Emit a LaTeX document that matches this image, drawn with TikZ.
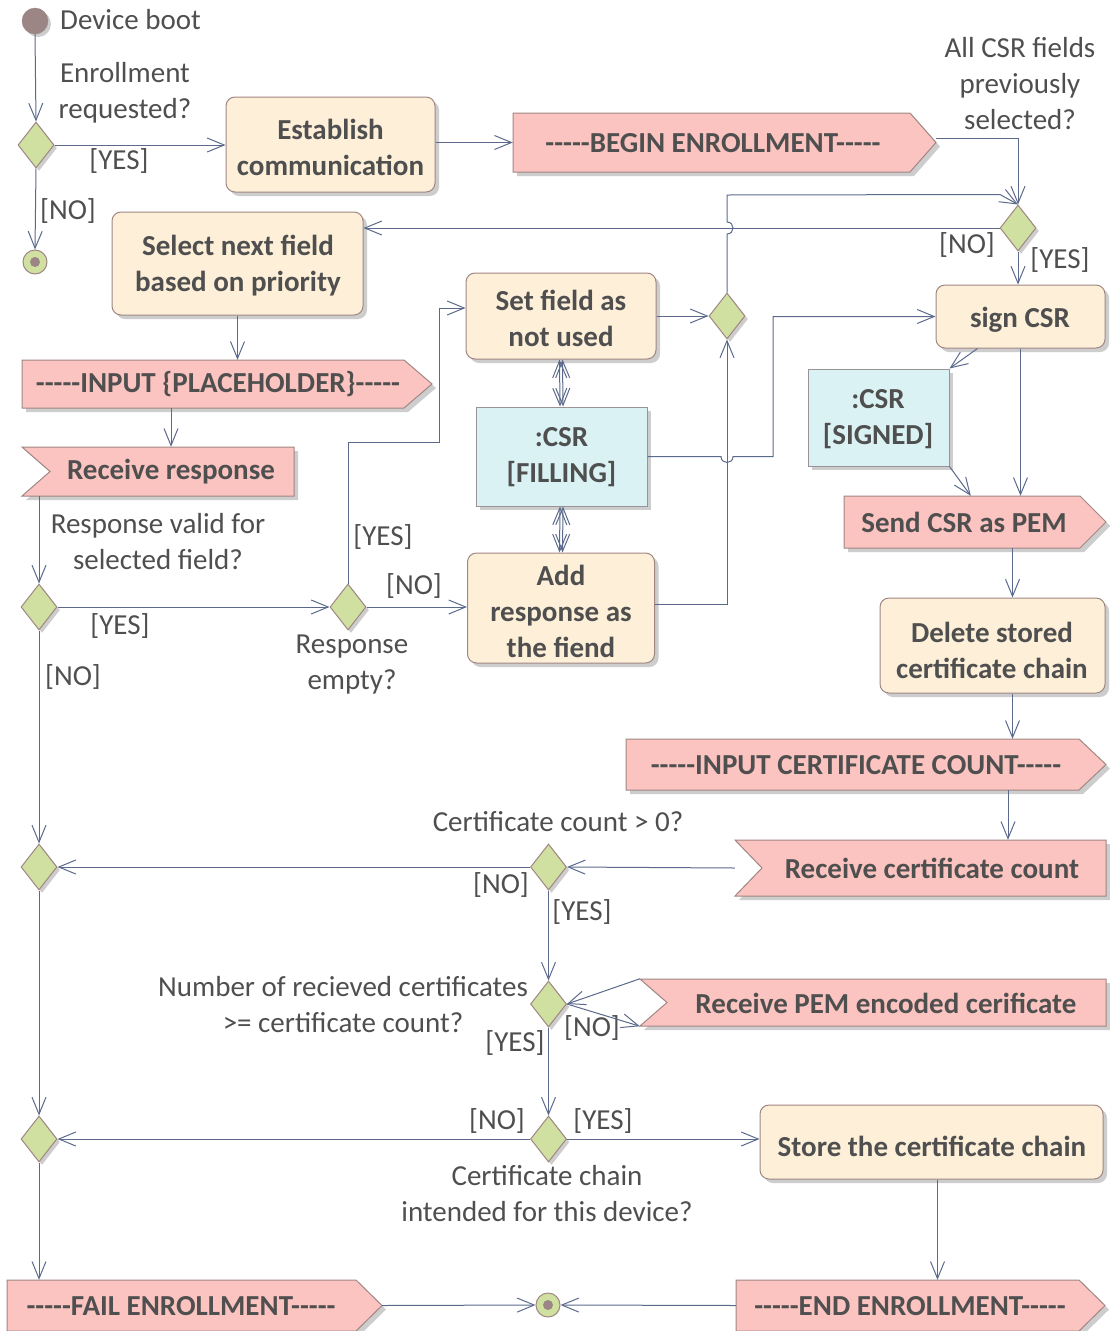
\documentclass[tikz,border=0pt]{standalone}
\usepackage{fontspec}
\setmainfont{Carlito}[Ligatures=TeXOff]
\usetikzlibrary{arrows.meta,shapes.geometric,calc,shadows}
\definecolor{lnc}{HTML}{5B6A8C}
\definecolor{bdr}{HTML}{A08784}
\definecolor{actf}{HTML}{FDEFD8}
\definecolor{sigf}{HTML}{FBC4C0}
\definecolor{objf}{HTML}{DAF2F3}
\definecolor{objb}{HTML}{9A9396}
\definecolor{decf}{HTML}{CFE0A0}
\definecolor{txt}{HTML}{4F4F4F}
\definecolor{shd}{HTML}{CDCDCD}
\definecolor{startc}{HTML}{9C8585}
\newcommand\lblfont{\fontsize{29}{36}\selectfont}
\newcommand\bfnt{\bfseries\fontsize{29}{36}\selectfont}
\tikzset{
  conn/.style={draw=lnc, line width=1pt, -{Straight Barb[length=17pt,width=14pt]}},
  plainln/.style={draw=lnc, line width=1pt},
  shdw/.style={drop shadow={shadow xshift=4pt, shadow yshift=-4pt, fill=shd, opacity=1}},
  act/.style={draw=bdr, fill=actf, line width=1pt, rounded corners=9pt, inner sep=0pt, shdw},
  obj/.style={draw=objb, fill=objf, line width=1pt, inner sep=0pt, shdw},
  sigsty/.style={draw=bdr, fill=sigf, line width=1pt},
  frame/.style={draw=none, inner sep=0pt},
  dec/.style={diamond, draw=bdr, fill=decf, line width=1pt, minimum width=36pt, minimum height=46pt, inner sep=0pt,
    drop shadow={shadow xshift=3pt, shadow yshift=-3pt, fill=shd, opacity=1}},
  lbl/.style={font=\lblfont, align=center, inner sep=0pt, text=txt},
  btx/.style={font=\bfnt, align=center, inner sep=0pt, text=txt},
}
% send signal: name, xl, yt, xb, xr, yb
\newcommand\sendsig[6]{%
  \fill[shd] ({#2+4},{#3+4}) -- ({#4+4},{#3+4}) -- ({#5+4},{(#3+#6)/2+4}) -- ({#4+4},{#6+4}) -- ({#2+4},{#6+4}) -- cycle;
  \filldraw[sigsty] (#2,#3) -- (#4,#3) -- (#5,{(#3+#6)/2}) -- (#4,#6) -- (#2,#6) -- cycle;
  \node[frame, minimum width={#5-#2}, minimum height={#6-#3}] (#1) at ({(#2+#5)/2},{(#3+#6)/2}) {};
}
% receive signal: name, xl, yt, xn, xr, yb
\newcommand\recvsig[6]{%
  \fill[shd] ({#2+4},{#3+4}) -- ({#5+4},{#3+4}) -- ({#5+4},{#6+4}) -- ({#2+4},{#6+4}) -- ({#4+4},{(#3+#6)/2+4}) -- cycle;
  \filldraw[sigsty] (#2,#3) -- (#5,#3) -- (#5,#6) -- (#2,#6) -- (#4,{(#3+#6)/2}) -- cycle;
  \node[frame, minimum width={#5-#2}, minimum height={#6-#3}] (#1) at ({(#2+#5)/2},{(#3+#6)/2}) {};
}
\begin{document}
\begin{tikzpicture}[x=1pt,y=-1pt]
\useasboundingbox[fill=white] (0,0) rectangle (1109,1331);

% ---------- start / first decision ----------
\node[circle, fill=startc, draw=startc, minimum size=26pt, inner sep=0pt,
  drop shadow={shadow xshift=3pt, shadow yshift=-3pt, fill=shd, opacity=1}] (start) at (35,21) {};
\node[lbl, anchor=west] (startl) at (60,20) {Device boot};
\node[lbl] (q1) at (125,93) {Enrollment\\requested?};
\node[dec] (d1) at (36,145) {};
\node[lbl] (yes1) at (119,161) {[YES]};
\node[lbl] (no1) at (68,211) {[NO]};
\node[circle, fill=decf, draw=bdr, line width=1pt, minimum size=24pt, inner sep=0pt,
  path picture={\fill[startc] (path picture bounding box.center) circle (5pt);}] (end1) at (35,262) {};

\node[act, minimum width=209pt, minimum height=95pt] (est) at (330.5,144.5) {};
\node[btx] (est-t) at (330.5,147) {Establish\\communication};

\sendsig{begin}{513}{113}{910}{936}{172}
\node[btx] (begin-t) at (713,143) {-----BEGIN ENROLLMENT-----};

\node[lbl] (q2) at (1020,84) {All CSR fields\\previously\\selected?};
\node[dec] (d2) at (1018,228) {};
\node[lbl] (no2) at (967,245) {[NO]};
\node[lbl] (yes2) at (1060,260) {[YES]};

\node[act, minimum width=251pt, minimum height=103pt] (sel) at (237.5,263.5) {};
\node[btx] (sel-t) at (238,266) {Select next field\\based on priority};

\sendsig{inp}{22}{360}{404}{432}{408}
\node[btx] (inp-t) at (218,384) {-----INPUT \{PLACEHOLDER\}-----};

\recvsig{rr}{22}{447}{50}{294}{496}
\node[btx] (rr-t) at (171,472) {Receive response};

\node[lbl] (q3) at (158,542) {Response valid for\\selected field?};
\node[dec] (d3) at (39,607) {};
\node[lbl] (yes3) at (120,626) {[YES]};
\node[lbl] (no3) at (73,677) {[NO]};

\node[dec] (d5) at (348,607) {};
\node[lbl] (q5) at (352,665) {Response\\empty?};
\node[lbl] (yes5) at (383,537) {[YES]};
\node[lbl] (no5) at (414,586) {[NO]};

\node[act, minimum width=190pt, minimum height=86pt] (setf) at (561,316) {};
\node[btx] (setf-t) at (561,318) {Set field as\\not used};
\node[obj, minimum width=171pt, minimum height=99pt] (csrf) at (561.5,456.5) {};
\node[btx] (csrf-t) at (561.5,457) {:CSR\\{}{[FILLING]}};
\node[act, minimum width=187pt, minimum height=110pt] (addr) at (561,608) {};
\node[btx] (addr-t) at (561,611) {Add\\response as\\the fiend};

\node[dec] (d4) at (727,316) {};

\node[act, minimum width=169pt, minimum height=63pt] (sign) at (1020.5,316.5) {};
\node[btx] (sign-t) at (1020,320) {sign CSR};
\node[obj, minimum width=141pt, minimum height=97pt] (csrs) at (878.5,417.5) {};
\node[btx] (csrs-t) at (878,419) {:CSR\\{}{[SIGNED]}};

\sendsig{send}{844}{496}{1080}{1106}{548}
\node[btx] (send-t) at (964,522) {Send CSR as PEM};

\node[act, minimum width=225pt, minimum height=95pt] (del) at (992.5,645.5) {};
\node[btx] (del-t) at (992,650) {Delete stored\\certificate chain};

\sendsig{inc}{626}{739}{1079}{1106}{790}
\node[btx] (inc-t) at (856,765) {-----INPUT CERTIFICATE COUNT-----};

\recvsig{rcc}{735}{840}{762}{1106}{896}
\node[btx] (rcc-t) at (932,868) {Receive certificate count};

\node[lbl] (q7) at (558,822) {Certificate count > 0?};
\node[dec] (d7) at (548.5,867) {};
\node[lbl] (no7) at (501,885) {[NO]};
\node[lbl] (yes7) at (582,912) {[YES]};
\node[dec] (d6) at (39,867) {};

\node[dec] (d8) at (548.5,1004) {};
\recvsig{rpem}{640}{979}{667}{1106}{1026}
\node[btx] (rpem-t) at (886,1003) {Receive PEM encoded cerificate};
\node[lbl] (q8) at (343,1005) {Number of recieved certificates\\>= certificate count?};
\node[lbl] (no8) at (592,1028) {[NO]};
\node[lbl] (yes8) at (515,1043) {[YES]};

\node[dec] (d9) at (548.5,1139) {};
\node[dec] (d10) at (39,1139) {};
\node[lbl] (no9) at (497,1121) {[NO]};
\node[lbl] (yes9) at (603,1121) {[YES]};
\node[lbl] (q9) at (547,1194) {Certificate chain\\intended for this device?};

\node[act, minimum width=343pt, minimum height=74pt] (store) at (931.5,1142) {};
\node[btx] (store-t) at (932,1146) {Store the certificate chain};

\sendsig{fail}{7}{1280}{356}{382}{1331}
\node[btx] (fail-t) at (181,1306) {-----FAIL ENROLLMENT-----};
\sendsig{endn}{736}{1280}{1079}{1105}{1331}
\node[btx] (endn-t) at (910,1306) {-----END ENROLLMENT-----};

\node[circle, fill=decf, draw=bdr, line width=1pt, minimum size=24pt, inner sep=0pt,
  path picture={\fill[startc] (path picture bounding box.center) circle (5pt);}] (final) at (548,1305) {};

% helper coordinates for vertical connector columns
\coordinate (colR) at ($(del.north)+(20,0)$);
\coordinate (colC) at ($(rcc.north)+(87.5,0)$);
\coordinate (colS) at ($(store.south)+(6,0)$);
\coordinate (hopA) at (d4.north |- d2.west);
\coordinate (hopB) at (d4.south |- csrf.east);

% ---------- connectors ----------
\draw[conn] (start.south) -- (d1.north);
\draw[conn] (d1.east) -- (d1.east -| est.west);
\draw[conn] (d1.south) -- (end1.north);
\draw[conn] (est.east |- begin.west) -- (begin.west);
\draw[conn] ($(begin.east)+(0,-4)$) -| (d2.north);
\draw[conn] (d4.north) -- ($(hopA)+(0,6)$)
   .. controls ($(hopA)+(8,6)$) and ($(hopA)+(8,-6)$) .. ($(hopA)+(0,-6)$)
   -- ($(hopA)+(0,-33)$) -- ($(d2.north)+(-18,-10)$) -- (d2.north);
\draw[conn] (d2.west) -- (d2.west -| sel.east);
\draw[conn] (d2.south) -- (d2.south |- sign.north);
\draw[conn] (sel.south) -- (sel.south |- inp.north);
\draw[conn] (inp.south -| rr-t.north) -- (rr.north -| rr-t.north);
\draw[conn] (d3.north |- rr.south) -- (d3.north);
\draw[conn] (d3.east) -- (d5.west);
\draw[conn] (d3.south) -- (d6.north);
\draw[conn] (d5.north) -- ++(0,-141) -- ++(91,0) |- ($(setf.west)+(0,-8)$);
\draw[conn] (d5.east) -- (d5.east -| addr.west);
\draw[plainln, {Straight Barb[length=17pt,width=14pt]}-{Straight Barb[length=17pt,width=14pt]}] ($(setf.south)+(-1.5,0)$) -- ($(csrf.north)+(-1.5,0)$);
\draw[plainln, {Straight Barb[length=17pt,width=14pt]}-{Straight Barb[length=17pt,width=14pt]}] ($(setf.south)+(1.5,0)$) -- ($(csrf.north)+(1.5,0)$);
\draw[plainln, {Straight Barb[length=17pt,width=14pt]}-{Straight Barb[length=17pt,width=14pt]}] ($(csrf.south)+(-1.5,0)$) -- ($(addr.north)+(-1.5,0)$);
\draw[plainln, {Straight Barb[length=17pt,width=14pt]}-{Straight Barb[length=17pt,width=14pt]}] ($(csrf.south)+(1.5,0)$) -- ($(addr.north)+(1.5,0)$);
\draw[conn] (setf.east) -- (setf.east -| d4.west);
\draw[conn] ($(addr.east)+(0,-4)$) -| (d4.south);
\draw[conn] (csrf.east) -- ($(hopB)+(-6,0)$)
   .. controls ($(hopB)+(-6,8)$) and ($(hopB)+(6,8)$) .. ($(hopB)+(6,0)$)
   -- ($(hopB)+(46,0)$) |- (sign.west);
\draw[conn] ($(sign.south west)+(42,0)$) -- (csrs.north east);
\draw[conn] (csrs.south east) -- ($(send.north west)+(127,0)$);
\draw[conn] (sign.south) -- (sign.south |- send.north);
\draw[conn] (colR |- send.south) -- (colR |- del.north);
\draw[conn] (colR |- del.south) -- (colR |- inc.north);
\draw[conn] (colC |- inc.south) -- (colC |- rcc.north);
\draw[conn] (rcc.west) -- (d7.east);
\draw[conn] (d7.west) -- (d6.east);
\draw[conn] (d7.south) -- (d8.north);
\draw[conn] (rpem.north west) -- (d8.east);
\draw[conn] (d8.east) -- (rpem.south west);
\draw[conn] (d8.south) -- (d9.north);
\draw[conn] (d9.west) -- (d10.east);
\draw[conn] (d9.east) -- (d9.east -| store.west);
\draw[conn] (d6.south) -- (d10.north);
\draw[conn] (d10.south) -- (d10.south |- fail.north);
\draw[conn] (colS |- store.south) -- (colS |- endn.north);
\draw[conn] (fail.east) -- (final.west);
\draw[conn] (endn.west) -- (final.east);
\end{tikzpicture}
\end{document}
